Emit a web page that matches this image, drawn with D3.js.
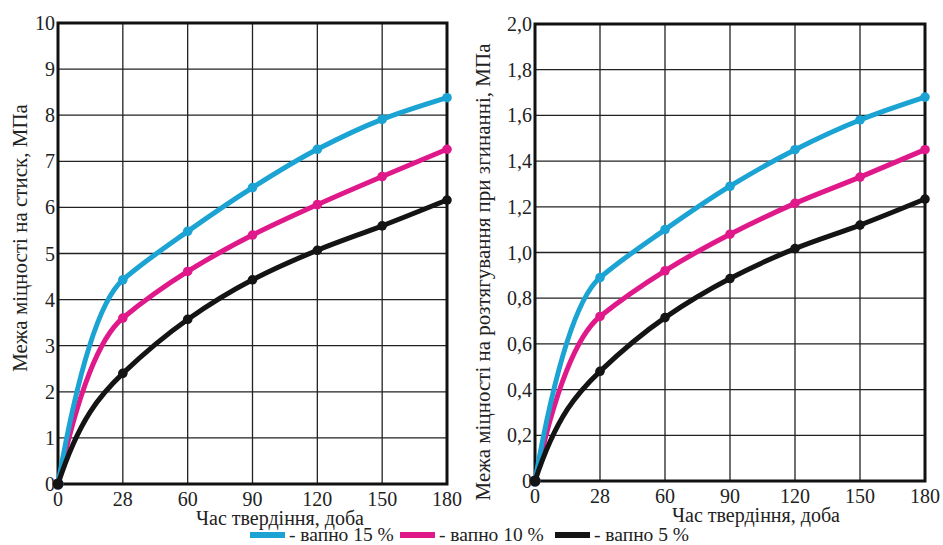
<!DOCTYPE html>
<html>
<head>
<meta charset="utf-8">
<script src="https://cdn.jsdelivr.net/npm/d3@7/dist/d3.min.js"></script>
<style>
  body { margin: 0; background: #fff; }
</style>
</head>
<body>
<div id="chart"></div>
<script>
var days = [0, 28, 60, 90, 120, 150, 180];

var seriesNames = ['вапно 15 %', 'вапно 10 %', 'вапно 5 %'];
var seriesColors = ['#1ba3d3', '#e0198b', '#141414'];

// межа міцності на стиск, МПа
var compress15 = [0, 4.43, 5.48, 6.43, 7.26, 7.91, 8.38];
var compress10 = [0, 3.60, 4.61, 5.40, 6.06, 6.67, 7.26];
var compress5 = [0, 2.40, 3.57, 4.43, 5.07, 5.60, 6.16];
var compressTicks = [0, 1, 2, 3, 4, 5, 6, 7, 8, 9, 10];

// межа міцності на розтягування при згинанні, МПа
var bend15 = [0, 0.89, 1.10, 1.29, 1.45, 1.58, 1.68];
var bend10 = [0, 0.72, 0.92, 1.08, 1.215, 1.33, 1.45];
var bend5 = [0, 0.48, 0.715, 0.886, 1.017, 1.12, 1.234];
var bendTicks = [0, 0.2, 0.4, 0.6, 0.8, 1.0, 1.2, 1.4, 1.6, 1.8, 2.0];

var FONT = 'Liberation Serif';

var svg = d3.select('#chart').append('svg')
  .attr('width', 943)
  .attr('height', 545);

svg.append('rect').attr('width', 943).attr('height', 545).attr('fill', '#fff');

// гладка крива через точки: крутий старт і злам біля 28 діб без викиду
function smoothPath(pts) {
  var n = pts.length;
  var s = [];
  var m = [];
  var i;
  for (i = 0; i < n - 1; i++) {
    s.push((pts[i + 1][1] - pts[i][1]) / (pts[i + 1][0] - pts[i][0]));
  }
  for (i = 1; i < n - 1; i++) {
    var a = s[i - 1], b = s[i];
    var harm = a * b > 0 ? 2 * a * b / (a + b) : 0;
    var lim = Math.abs(a) < Math.abs(b) ? a : b;
    m[i] = Math.abs(harm) > Math.abs(lim) * 1.15 ? lim * 1.15 : harm;
  }
  m[0] = 1.8 * s[0];
  m[n - 1] = (3 * s[n - 2] - m[n - 2]) / 2;

  var p = d3.path();
  p.moveTo(pts[0][0], pts[0][1]);
  for (i = 0; i < n - 1; i++) {
    var h = (pts[i + 1][0] - pts[i][0]) / 3;
    p.bezierCurveTo(
      pts[i][0] + h, pts[i][1] + m[i] * h,
      pts[i + 1][0] - h, pts[i + 1][1] - m[i + 1] * h,
      pts[i + 1][0], pts[i + 1][1]
    );
  }
  return p.toString();
}

function label(sel, size) {
  return sel.attr('font-family', FONT)
    .attr('font-size', size)
    .attr('fill', '#222');
}

function drawPanel(opts) {
  var x = d3.scalePoint().domain(days).range([opts.left, opts.right]);
  var y = d3.scaleLinear().domain([0, opts.max]).range([opts.bottom, opts.top]);
  var g = svg.append('g');

  // сітка
  g.selectAll('.vgrid').data(days).enter().append('line')
    .attr('x1', function (d) { return x(d); })
    .attr('x2', function (d) { return x(d); })
    .attr('y1', opts.top).attr('y2', opts.bottom)
    .attr('stroke', '#222').attr('stroke-width', 1.3);

  g.selectAll('.hgrid').data(opts.ticks).enter().append('line')
    .attr('x1', opts.left).attr('x2', opts.right)
    .attr('y1', function (d) { return y(d); })
    .attr('y2', function (d) { return y(d); })
    .attr('stroke', '#222').attr('stroke-width', 1.3);

  g.append('rect')
    .attr('x', opts.left).attr('y', opts.top)
    .attr('width', opts.right - opts.left)
    .attr('height', opts.bottom - opts.top)
    .attr('fill', 'none').attr('stroke', '#111').attr('stroke-width', 3);

  // підписи осей
  g.selectAll('.ytick').data(opts.ticks).enter().append('text')
    .attr('x', opts.left - 3)
    .attr('y', function (d) { return y(d); })
    .attr('dy', '0.35em')
    .attr('text-anchor', 'end')
    .call(label, 20)
    .text(opts.fmt);

  g.selectAll('.xtick').data(days).enter().append('text')
    .attr('x', function (d) { return x(d); })
    .attr('y', opts.bottom + 15)
    .attr('dy', '0.35em')
    .attr('text-anchor', 'middle')
    .call(label, 20)
    .text(function (d) { return d; });

  g.append('text')
    .attr('x', opts.xTitleX)
    .attr('y', opts.bottom + 41)
    .attr('text-anchor', 'middle')
    .call(label, 20)
    .text('Час твердіння, доба');

  g.append('text')
    .attr('transform', 'translate(' + opts.yTitleX + ',' + opts.yTitleY + ')rotate(270)')
    .attr('text-anchor', 'middle')
    .call(label, 21)
    .text(opts.yTitle);

  var order = [1, 0, 2];
  order.forEach(function (k) {
    var pts = opts.series[k].map(function (d, i) { return [x(days[i]), y(d)]; });
    g.append('path')
      .attr('d', smoothPath(pts))
      .attr('fill', 'none')
      .attr('stroke', seriesColors[k])
      .attr('stroke-width', 5)
      .attr('stroke-linecap', 'round');

    g.selectAll('.dot' + k).data(opts.series[k]).enter().append('circle')
      .attr('cx', function (d, i) { return x(days[i]); })
      .attr('cy', function (d) { return y(d); })
      .attr('r', function (d, i) { return i === 0 ? 5.5 : 4.8; })
      .attr('fill', seriesColors[k]);
  });
}

drawPanel({
  left: 58, right: 447, top: 23, bottom: 484,
  max: 10, ticks: compressTicks,
  fmt: function (d) { return d; },
  series: [compress15, compress10, compress5],
  xTitleX: 280,
  yTitleX: 27, yTitleY: 238,
  yTitle: 'Межа міцності на стиск, МПа'
});

drawPanel({
  left: 535, right: 925, top: 24, bottom: 481,
  max: 2, ticks: bendTicks,
  fmt: function (d) { return d === 0 ? '0' : d3.format('.1f')(d).replace('.', ','); },
  series: [bend15, bend10, bend5],
  xTitleX: 756,
  yTitleX: 490, yTitleY: 272,
  yTitle: 'Межа міцності на розтягування при згинанні, МПа'
});

// легенда
var legendX = [250, 400, 555];
var legend = svg.append('g');
seriesNames.forEach(function (name, k) {
  legend.append('rect')
    .attr('x', legendX[k]).attr('y', 532)
    .attr('width', 35).attr('height', 6)
    .attr('fill', seriesColors[k]);
  legend.append('text')
    .attr('x', legendX[k] + 39).attr('y', 534)
    .attr('dy', '0.35em')
    .call(label, 19.5)
    .text('- ' + name);
});
</script>
</body>
</html>
